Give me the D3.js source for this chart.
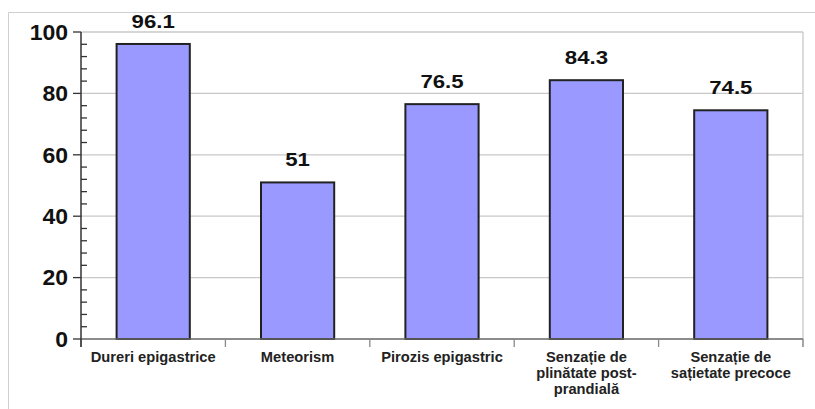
<!DOCTYPE html>
<html>
<head>
<meta charset="utf-8">
<script src="https://cdn.jsdelivr.net/npm/d3@7"></script>
<style>
  html, body { margin: 0; padding: 0; background: #fff; }
  svg { display: block; font-family: Arial, "Liberation Sans", sans-serif; }
</style>
</head>
<body>
<svg id="chart" width="815" height="409"></svg>
<script>
// Symptom frequencies (%)
const categories = [
  ["Dureri epigastrice"],
  ["Meteorism"],
  ["Pirozis epigastric"],
  ["Senzație de", "plinătate post-", "prandială"],
  ["Senzație de", "sațietate precoce"]
];
const values = [96.1, 51, 76.5, 84.3, 74.5];
const yTicks = [0, 20, 40, 60, 80, 100];

const svg = d3.select("#chart");
const plot = { left: 81, right: 803, top: 32, bottom: 339 };

// outer chart frame (top and left edges)
svg.append("path")
  .attr("d", "M8.5,409V12.5H815")
  .attr("fill", "none").attr("stroke", "#cfcfcf").attr("stroke-width", 1);

const x = d3.scaleBand()
  .domain(d3.range(categories.length))
  .range([plot.left, plot.right])
  .padding(0);

const y = d3.scaleLinear().domain([0, 100]).range([plot.bottom, plot.top]);

// horizontal gridlines
svg.append("g").selectAll("line")
  .data(yTicks.filter(d => d > 0))
  .join("line")
  .attr("x1", plot.left).attr("x2", plot.right)
  .attr("y1", d => y(d)).attr("y2", d => y(d))
  .attr("stroke", "#c8c8c8").attr("stroke-width", 1.3);

// right edge of plot area
svg.append("line")
  .attr("x1", plot.right).attr("x2", plot.right)
  .attr("y1", plot.top).attr("y2", plot.bottom + 8)
  .attr("stroke", "#c8c8c8").attr("stroke-width", 1.3);

// bars
const barW = x.bandwidth() * 0.507;
svg.append("g").selectAll("rect")
  .data(values)
  .join("rect")
  .attr("x", (d, i) => x(i) + (x.bandwidth() - barW) / 2)
  .attr("y", d => y(d))
  .attr("width", barW)
  .attr("height", d => y(0) - y(d))
  .attr("fill", "#9999ff")
  .attr("stroke", "#222")
  .attr("stroke-width", 2);

// value labels
svg.append("g").selectAll("text")
  .data(values)
  .join("text")
  .attr("transform", (d, i) => `translate(${x(i) + x.bandwidth() / 2},${y(d) - 16}) scale(1.17,1)`)
  .attr("text-anchor", "middle")
  .attr("font-size", 19)
  .attr("font-weight", "bold")
  .attr("fill", "#111")
  .text(d => d3.format("")(d));

// x axis
const xAxis = svg.append("g").attr("transform", `translate(0,${plot.bottom})`);
xAxis.append("line")
  .attr("x1", plot.left).attr("x2", plot.right)
  .attr("stroke", "#666").attr("stroke-width", 1.5);
xAxis.selectAll("line.tick")
  .data(d3.range(categories.length + 1))
  .join("line").attr("class", "tick")
  .attr("x1", i => plot.left + i * x.step()).attr("x2", i => plot.left + i * x.step())
  .attr("y1", 0).attr("y2", 8)
  .attr("stroke", "#888").attr("stroke-width", 1.3);

// category labels
const catG = xAxis.selectAll("text")
  .data(categories)
  .join("text")
  .attr("transform", (d, i) => `translate(${x(i) + x.bandwidth() / 2},22.7) scale(1.05,1)`)
  .attr("text-anchor", "middle")
  .attr("font-size", 14)
  .attr("font-weight", "bold")
  .attr("fill", "#222");
catG.selectAll("tspan")
  .data(d => d)
  .join("tspan")
  .attr("x", 0)
  .attr("dy", (d, i) => i === 0 ? 0 : 16)
  .text(d => d);

// y axis
const yAxis = svg.append("g").attr("transform", `translate(${plot.left},0)`);
yAxis.append("line")
  .attr("y1", plot.top).attr("y2", plot.bottom + 8)
  .attr("stroke", "#333").attr("stroke-width", 1.5);
// minor ticks, pointing inward
yAxis.selectAll("line.minor")
  .data(d3.range(0, 101, 4).filter(v => v % 20 !== 0))
  .join("line").attr("class", "minor")
  .attr("x1", 0).attr("x2", 6)
  .attr("y1", d => y(d)).attr("y2", d => y(d))
  .attr("stroke", "#333").attr("stroke-width", 1.3);
// major ticks, pointing outward
yAxis.selectAll("line.major")
  .data(yTicks)
  .join("line").attr("class", "major")
  .attr("x1", -8).attr("x2", 0)
  .attr("y1", d => y(d)).attr("y2", d => y(d))
  .attr("stroke", "#333").attr("stroke-width", 1.3);
yAxis.selectAll("text")
  .data(yTicks)
  .join("text")
  .attr("transform", d => `translate(-13,${y(d)}) scale(1.07,1)`)
  .attr("text-anchor", "end")
  .attr("dy", "0.36em")
  .attr("font-size", 21.5)
  .attr("font-weight", "bold")
  .attr("fill", "#111")
  .text(d => d);
</script>
</body>
</html>
